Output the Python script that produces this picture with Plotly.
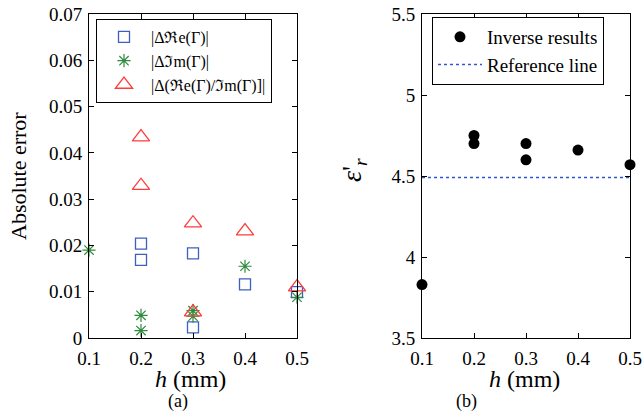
import plotly.graph_objects as go

# Panel (a) data
re_h = [0.2, 0.2, 0.3, 0.3, 0.4, 0.5]
re_err = [0.0204, 0.0169, 0.0183, 0.0023, 0.0116, 0.0099]
im_h = [0.1, 0.2, 0.2, 0.3, 0.3, 0.4, 0.5]
im_err = [0.0190, 0.0049, 0.0016, 0.0059, 0.0047, 0.0155, 0.0088]
ratio_h = [0.2, 0.2, 0.3, 0.3, 0.4, 0.5]
ratio_err = [0.0434, 0.0329, 0.0248, 0.0056, 0.0231, 0.0110]

# Panel (b) data
inv_h = [0.1, 0.2, 0.2, 0.3, 0.3, 0.4, 0.5]
inv_eps = [3.83, 4.75, 4.70, 4.70, 4.60, 4.66, 4.57]
ref_h = [0.1, 0.5]
ref_eps = [4.49, 4.49]

x_ticks = [0.1, 0.2, 0.3, 0.4, 0.5]
x_ticklabels = ["0.1", "0.2", "0.3", "0.4", "0.5"]
ya_ticks = [0, 0.01, 0.02, 0.03, 0.04, 0.05, 0.06, 0.07]
ya_ticklabels = ["0", "0.01", "0.02", "0.03", "0.04", "0.05", "0.06", "0.07"]
yb_ticks = [3.5, 4, 4.5, 5, 5.5]
yb_ticklabels = ["3.5", "4", "4.5", "5", "5.5"]

FONT = "Liberation Serif"
W, H = 644, 412

fig = go.Figure()

fig.add_trace(go.Scatter(x=re_h, y=re_err, mode="markers", name="|Δℜe(Γ)|",
                         marker=dict(symbol="square-open", size=11, color="#3f5fbf", line=dict(width=1.3)),
                         xaxis="x", yaxis="y", legend="legend", cliponaxis=False))
fig.add_trace(go.Scatter(x=im_h, y=im_err, mode="markers", name="|Δℑm(Γ)|",
                         marker=dict(symbol="asterisk-open", size=11, color="#2e8b3e", line=dict(width=1.2, color="#2e8b3e")),
                         xaxis="x", yaxis="y", legend="legend", cliponaxis=False))
fig.add_trace(go.Scatter(x=ratio_h, y=ratio_err, mode="markers", name="|Δ(ℜe(Γ)/ℑm(Γ)]|",
                         marker=dict(symbol="triangle-up-open", size=15, color="#ff3b3b", line=dict(width=1.3)),
                         xaxis="x", yaxis="y", legend="legend", cliponaxis=False))

fig.add_trace(go.Scatter(x=inv_h, y=inv_eps, mode="markers", name="Inverse results",
                         marker=dict(symbol="circle", size=11, color="black"),
                         xaxis="x2", yaxis="y2", legend="legend2", cliponaxis=False))
fig.add_trace(go.Scatter(x=ref_h, y=ref_eps, mode="lines", name="Reference line",
                         line=dict(color="#3355cc", width=1.5, dash="dot"),
                         xaxis="x2", yaxis="y2", legend="legend2"))

def px_x(p):
    return p / W

def px_y(p):
    return 1 - p / H

axis_common = dict(showline=True, mirror="ticks", linecolor="black", linewidth=1,
                   ticks="inside", ticklen=5, tickcolor="black", showgrid=False, zeroline=False,
                   automargin=False,
                   tickfont=dict(family=FONT, size=19, color="black"))

fig.update_layout(
    width=W, height=H, margin=dict(l=0, r=0, t=0, b=0, pad=0, autoexpand=False),
    paper_bgcolor="white", plot_bgcolor="white",
    font=dict(family=FONT, color="black"),
    xaxis=dict(domain=[px_x(89), px_x(297)], range=[0.1, 0.5], tickvals=x_ticks, ticktext=x_ticklabels,
               anchor="y", ticklabelstandoff=3, **axis_common),
    yaxis=dict(domain=[px_y(338), px_y(14)], range=[0, 0.07], tickvals=ya_ticks, ticktext=ya_ticklabels,
               anchor="x", ticklabelstandoff=2, **axis_common),
    xaxis2=dict(domain=[px_x(422), px_x(630)], range=[0.1, 0.5], tickvals=x_ticks, ticktext=x_ticklabels,
                anchor="y2", ticklabelstandoff=3, **axis_common),
    yaxis2=dict(domain=[px_y(338), px_y(14)], range=[3.5, 5.5], tickvals=yb_ticks, ticktext=yb_ticklabels,
                anchor="x2", ticklabelstandoff=2, **axis_common),
    legend=dict(x=px_x(96), y=px_y(19), xanchor="left", yanchor="top",
                bordercolor="black", borderwidth=1, bgcolor="white", itemwidth=44,
                font=dict(family=FONT, size=16, color="black"), tracegroupgap=0),
    legend2=dict(x=px_x(432), y=px_y(17), xanchor="left", yanchor="top",
                 bordercolor="black", borderwidth=1, bgcolor="white", itemwidth=44,
                 font=dict(family=FONT, size=19, color="black"), tracegroupgap=0),
    showlegend=True,
)

annotations = [
    dict(text="Absolute error", x=px_x(18), y=px_y(176), textangle=-90, font=dict(size=22)),
    dict(text="<i>ε</i>'<sub><i>r</i></sub>", x=px_x(353), y=px_y(170), textangle=-90, font=dict(size=28)),
    dict(text="<i>h</i> (mm)", x=px_x(190), y=px_y(379), font=dict(size=24)),
    dict(text="<i>h</i> (mm)", x=px_x(524), y=px_y(379), font=dict(size=24)),
    dict(text="(a)", x=px_x(178), y=px_y(401), font=dict(size=18)),
    dict(text="(b)", x=px_x(467), y=px_y(401), font=dict(size=18)),
]
for a in annotations:
    a.update(xref="paper", yref="paper", showarrow=False, xanchor="center", yanchor="middle")
    a["font"].update(family=FONT, color="black")
fig.update_layout(annotations=annotations)

fig.write_html("out.html")
